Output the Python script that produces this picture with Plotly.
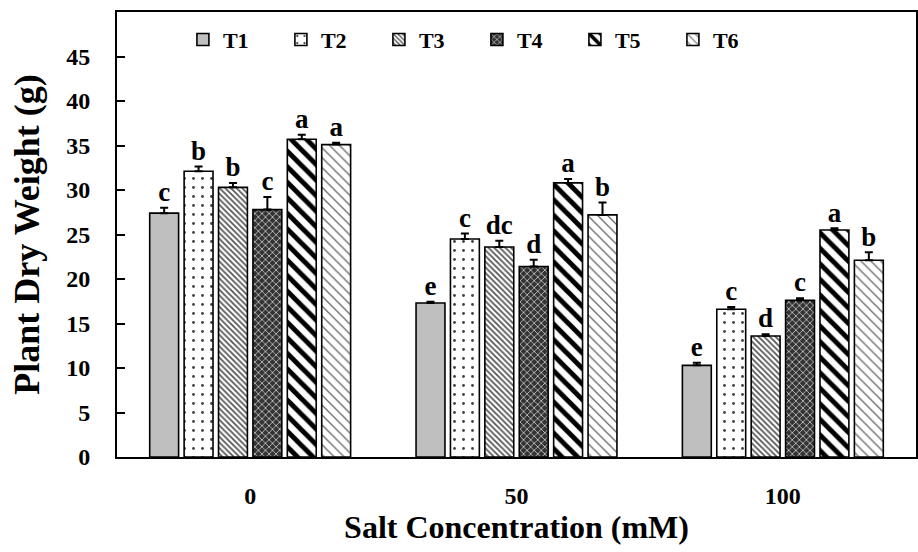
import plotly.graph_objects as go

categories = ["0", "50", "100"]
treatments = ["T1", "T2", "T3", "T4", "T5", "T6"]

values = {
    "T1": [27.4, 17.3, 10.3],
    "T2": [32.1, 24.5, 16.6],
    "T3": [30.3, 23.6, 13.6],
    "T4": [27.8, 21.4, 17.6],
    "T5": [35.7, 30.8, 25.5],
    "T6": [35.1, 27.2, 22.1],
}
errors = {
    "T1": [0.6, 0.15, 0.3],
    "T2": [0.55, 0.6, 0.25],
    "T3": [0.5, 0.7, 0.2],
    "T4": [1.4, 0.75, 0.25],
    "T5": [0.5, 0.45, 0.2],
    "T6": [0.2, 1.4, 0.9],
}
letters = {
    "T1": ["c", "e", "e"],
    "T2": ["b", "c", "c"],
    "T3": ["b", "dc", "d"],
    "T4": ["c", "d", "c"],
    "T5": ["a", "a", "a"],
    "T6": ["a", "b", "b"],
}
y_ticks = [0, 5, 10, 15, 20, 25, 30, 35, 40, 45]

styles = {
    "T1": dict(color="#bfbfbf", pattern=dict(shape="")),
    "T2": dict(color="white", pattern=dict(shape=".", fgcolor="#444444", bgcolor="white", size=9, solidity=0.08, fgopacity=1)),
    "T3": dict(color="white", pattern=dict(shape="\\", fgcolor="#555555", bgcolor="white", size=4, solidity=0.45, fgopacity=1)),
    "T4": dict(color="#444444", pattern=dict(shape="x", fgcolor="#c8c8c8", bgcolor="#333333", size=5, solidity=0.3, fgopacity=1)),
    "T5": dict(color="white", pattern=dict(shape="\\", fgcolor="#000000", bgcolor="white", size=11, solidity=0.45, fgopacity=1)),
    "T6": dict(color="white", pattern=dict(shape="\\", fgcolor="#666666", bgcolor="white", size=7, solidity=0.18, fgopacity=1)),
}

font_family = "Liberation Serif"

fig = go.Figure()
for t in treatments:
    st = styles[t]
    fig.add_trace(go.Bar(
        name=t, x=categories, y=values[t], offsetgroup=t,
        marker=dict(color=st["color"], pattern=st["pattern"],
                    line=dict(color="black", width=1.6)),
        error_y=dict(type="data", array=errors[t], arrayminus=[0] * len(categories),
                     symmetric=False, color="black", thickness=2, width=4),
    ))
for t in treatments:
    fig.add_trace(go.Scatter(
        x=categories, y=[v + e for v, e in zip(values[t], errors[t])],
        offsetgroup=t, mode="text", text=letters[t], textposition="top center",
        textfont=dict(family=font_family, size=27, color="black", weight="bold"),
        showlegend=False, hoverinfo="skip", cliponaxis=False,
    ))

fig.update_layout(
    width=918, height=552,
    margin=dict(l=117, r=2, t=12, b=95, autoexpand=False),
    paper_bgcolor="white", plot_bgcolor="white",
    barmode="group", bargap=0.225, bargroupgap=0.16,
    scattermode="group", scattergap=0.225,
    font=dict(family=font_family, color="black"),
    showlegend=True,
    legend=dict(orientation="h", x=0.0825, xanchor="left", y=0.985, yanchor="top",
                font=dict(family=font_family, size=22, color="black", weight="bold"),
                entrywidth=53, bgcolor="rgba(0,0,0,0)", traceorder="normal",
                itemwidth=30),
)
fig.update_xaxes(
    type="category", showline=True, linecolor="black", linewidth=2, mirror=True,
    ticks="", automargin=False, ticklabelstandoff=16,
    tickfont=dict(family=font_family, size=24, color="black", weight="bold"),
    title=dict(text="Salt Concentration (mM)", standoff=2,
               font=dict(family=font_family, size=32, color="black", weight="bold")),
)
fig.update_yaxes(
    range=[0, 50], tickvals=y_ticks, showline=True, linecolor="black", linewidth=2,
    mirror=True, ticks="inside", ticklen=8, tickwidth=1.5, tickcolor="black",
    showgrid=False, zeroline=False, automargin=False, ticklabelstandoff=20,
    tickfont=dict(family=font_family, size=24, color="black", weight="bold"),
    title=dict(text="Plant Dry Weight (g)", standoff=16,
               font=dict(family=font_family, size=36, color="black", weight="bold")),
)

fig.write_html("out.html", config={"displayModeBar": False},
               post_script="document.body.style.margin='0';")
